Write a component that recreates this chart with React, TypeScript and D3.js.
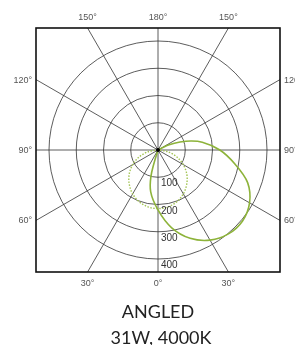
import React, { useEffect, useRef } from 'react';
import * as d3 from 'd3';

// candela values (angle from nadir, + = right)
const solidAngles = [-18, -15, -10, 0, 10, 20, 30, 40, 50, 60, 70, 80, 90, 100, 105, 110, 115, 118];
const solidValues = [0, 100, 155, 220, 290, 345, 382, 402, 405, 388, 350, 285, 227, 165, 128, 86, 45, 0];

const dashAngles = [-90, -80, -70, -60, -50, -40, -30, -20, -10, 0, 10, 20, 30, 40, 50, 60, 70, 80, 90];
const dashValues = [0, 37, 73, 107, 138, 164, 186, 202, 212, 215, 212, 202, 186, 164, 138, 107, 73, 37, 0];

const ringTicks = [100, 200, 300, 400];
const spokeAngles = [0, 30, 60, 90, 120, 150, 180, 210, 240, 270, 300, 330];

const topLabels = ['150°', '180°', '150°'];
const bottomLabels = ['30°', '0°', '30°'];
const sideLabels = ['120°', '90°', '60°'];

function App() {
  const svgRef = useRef<SVGSVGElement>(null);

  useEffect(() => {
    const svg = d3.select(svgRef.current);
    svg.selectAll('*').remove();

    const cx = 158,
      cy = 150,
      half = 122;
    const r = d3.scaleLinear().domain([0, 400]).range([0, 109]);
    const rad = (deg: number) => (deg * Math.PI) / 180;

    const g = svg.append('g').attr('transform', `translate(${cx},${cy})`);

    // rings
    g.selectAll('circle.ring')
      .data(ringTicks)
      .enter()
      .append('circle')
      .attr('r', (d) => r(d))
      .attr('fill', 'none')
      .attr('stroke', '#333')
      .attr('stroke-width', 0.8);

    // spokes out to the frame
    g.selectAll('line.spoke')
      .data(spokeAngles)
      .enter()
      .append('line')
      .attr('x1', 0)
      .attr('y1', 0)
      .attr('x2', (d) => {
        const s = Math.sin(rad(d)),
          c = Math.cos(rad(d));
        return (s * half) / Math.max(Math.abs(s), Math.abs(c));
      })
      .attr('y2', (d) => {
        const s = Math.sin(rad(d)),
          c = Math.cos(rad(d));
        return (c * half) / Math.max(Math.abs(s), Math.abs(c));
      })
      .attr('stroke', '#333')
      .attr('stroke-width', 0.8);

    const line = d3
      .lineRadial<[number, number]>()
      .angle((d) => Math.PI - rad(d[0]))
      .radius((d) => r(d[1]))
      .curve(d3.curveCatmullRom);

    g.append('path')
      .attr('d', line(dashAngles.map((a, i) => [a, dashValues[i]])))
      .attr('fill', 'none')
      .attr('stroke', '#a3c454')
      .attr('stroke-width', 1.4)
      .attr('stroke-dasharray', '1.5,1.5');

    g.append('path')
      .attr('d', line(solidAngles.map((a, i) => [a, solidValues[i]])))
      .attr('fill', 'none')
      .attr('stroke', '#8db33a')
      .attr('stroke-width', 1.6);

    g.append('circle').attr('r', 2).attr('fill', '#000');

    // ring labels
    g.selectAll('text.ring')
      .data(ringTicks)
      .enter()
      .append('text')
      .attr('x', 3)
      .attr('y', (d) => r(d) + 9)
      .attr('font-family', 'Arial, Liberation Sans, sans-serif')
      .attr('font-size', 10)
      .attr('fill', '#333')
      .text((d) => d);

    // frame
    svg
      .append('rect')
      .attr('x', cx - half)
      .attr('y', cy - half)
      .attr('width', half * 2)
      .attr('height', half * 2)
      .attr('fill', 'none')
      .attr('stroke', '#111')
      .attr('stroke-width', 1.6);

    const off = half * Math.tan(rad(30));
    const lbl = svg
      .append('g')
      .attr('font-family', 'Arial, Liberation Sans, sans-serif')
      .attr('font-size', 9)
      .attr('fill', '#555');

    [-off, 0, off].forEach((dx, i) => {
      lbl.append('text').attr('x', cx + dx).attr('y', 20).attr('text-anchor', 'middle').text(topLabels[i]);
      lbl.append('text').attr('x', cx + dx).attr('y', 286).attr('text-anchor', 'middle').text(bottomLabels[i]);
    });
    [-off, 0, off].forEach((dy, i) => {
      lbl.append('text').attr('x', 32).attr('y', cy + dy + 3).attr('text-anchor', 'end').text(sideLabels[i]);
      lbl.append('text').attr('x', 284).attr('y', cy + dy + 3).attr('text-anchor', 'start').text(sideLabels[i]);
    });

    const title = svg
      .append('g')
      .attr('font-family', 'Lato, Open Sans, sans-serif')
      .attr('font-size', 18)
      .attr('fill', '#222')
      .attr('text-anchor', 'middle');
    title.append('text').attr('x', cx).attr('y', 318).text('ANGLED');
    title.append('text').attr('x', cx + 3).attr('y', 344).text('31W, 4000K');
  }, []);

  return (
    <div style={{ position: 'fixed', left: 0, top: 0, width: 295, height: 345, overflow: 'hidden' }}>
      <svg ref={svgRef} width={295} height={345} style={{ display: 'block' }} />
    </div>
  );
}

export default App;
